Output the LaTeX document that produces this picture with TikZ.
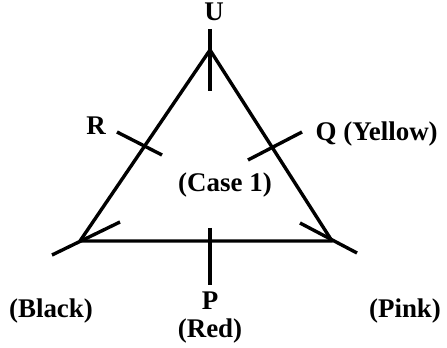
\documentclass[tikz,border=0pt]{standalone}
\usepackage{fontspec}
\setmainfont{Liberation Serif}
\usepackage{tikz}
\usetikzlibrary{calc}

\tikzset{lbl/.style={font=\fontsize{23}{27}\selectfont\bfseries,inner sep=0pt,anchor=base}}

\begin{document}
\begin{tikzpicture}[x=0.03cm,y=-0.03cm,line width=2.9pt]
\useasboundingbox (0,0) rectangle (447,348);
% corners of the triangle
\coordinate (u) at (210,50);
\coordinate (bl) at (80,241);
\coordinate (br) at (332,241);
% ends of the marks
\coordinate (u1) at (210,29);
\coordinate (u2) at (210,91);
\coordinate (bl1) at (52,255);
\coordinate (bl2) at (120,222);
\coordinate (br1) at (300,223);
\coordinate (br2) at (357,253);
\coordinate (r1) at (117,132);
\coordinate (r2) at (162,155);
\coordinate (q1) at (248,160);
\coordinate (q2) at (302,132);
\coordinate (p1) at (210,228);
\coordinate (p2) at (210,285);

\draw[line join=round] (u) -- (bl) -- (br) -- cycle;
\path
(u1) edge (u2)
(bl1) edge (bl2)
(br1) edge (br2)
(r1) edge (r2)
(q1) edge (q2)
(p1) edge (p2);

\node (lu) at (214,21) [lbl] {U};
\node (lr) at (96,135) [lbl] {R};
\node (lq) at (314,141) [lbl,anchor=base west] {Q (Yellow)};
\node (lcase) at (225,192) [lbl] {(Case 1)};
\node (lp) at (210,310) [lbl] {P};
\node (lred) at (210,338) [lbl] {(Red)};
\node (lblack) at (51,318) [lbl] {(Black)};
\node (lpink) at (405,318) [lbl] {(Pink)};
\end{tikzpicture}
\end{document}
